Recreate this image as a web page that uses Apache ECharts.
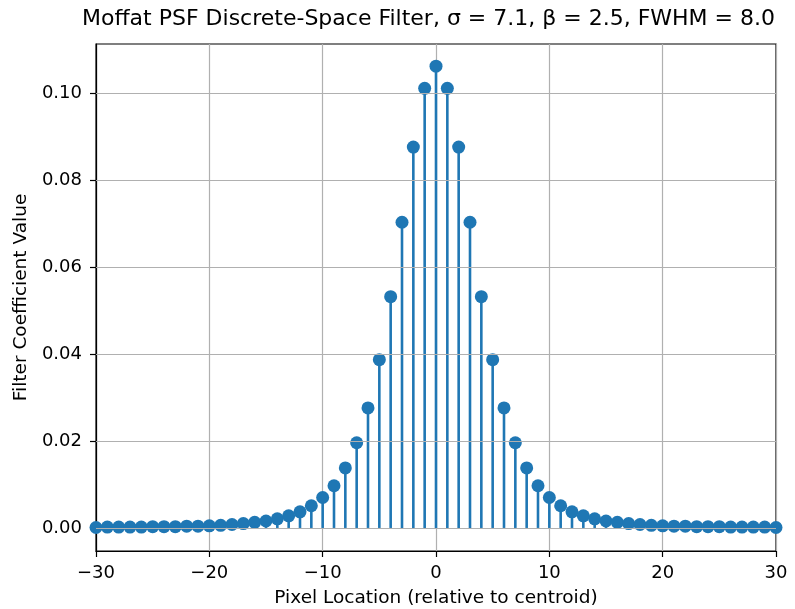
<!DOCTYPE html>
<html lang="en">
<head>
<meta charset="UTF-8">
<title>Moffat PSF</title>
<script src="https://cdn.jsdelivr.net/npm/echarts@6/dist/echarts.min.js"></script>
<style>
  html, body { margin: 0; padding: 0; background: #fff; }
  #container { width: 795px; height: 609px; }
</style>
</head>
<body>
<div id="container"></div>
<script>
// pixel offsets from the centroid
const pixelLocations = [];
for (let i = -30; i <= 30; i++) pixelLocations.push(i);

// filter coefficients, -30 .. 30
const coefficients = [
  0.0001, 0.0002, 0.0002, 0.0002, 0.0002, 0.0003, 0.0003, 0.0003, 0.0004, 0.0004,
  0.0005, 0.0006, 0.0008, 0.0010, 0.0013, 0.0016, 0.0021, 0.0028, 0.0037, 0.0051,
  0.0070, 0.0097, 0.0138, 0.0196, 0.0276, 0.0387, 0.0532, 0.0703, 0.0876, 0.1011,
  0.1062,
  0.1011, 0.0876, 0.0703, 0.0532, 0.0387, 0.0276, 0.0196, 0.0138, 0.0097, 0.0070,
  0.0051, 0.0037, 0.0028, 0.0021, 0.0016, 0.0013, 0.0010, 0.0008, 0.0006, 0.0005,
  0.0004, 0.0004, 0.0003, 0.0003, 0.0003, 0.0002, 0.0002, 0.0002, 0.0002, 0.0001
];

const yTicks = [0, 0.02, 0.04, 0.06, 0.08, 0.10];

const points = pixelLocations.map((x, i) => [x, coefficients[i]]);

const FONT = 'DejaVu Sans';
const BLUE = '#1f77b4';

const chart = echarts.init(document.getElementById('container'), null, { renderer: 'canvas' });

chart.setOption({
  animation: false,
  title: {
    text: 'Moffat PSF Discrete-Space Filter, σ = 7.1, β = 2.5, FWHM = 8.0',
    left: 77,
    top: 3,
    textStyle: { fontFamily: FONT, fontSize: 22, fontWeight: 'normal', color: '#000' }
  },
  grid: {
    left: 96, right: 19, top: 44, bottom: 58,
    outerBoundsMode: 'none',
    containLabel: false,
    show: true, borderColor: '#000', borderWidth: 1.2, backgroundColor: '#fff'
  },
  xAxis: {
    type: 'value',
    min: -30, max: 30, interval: 10,
    name: 'Pixel Location (relative to centroid)',
    nameLocation: 'middle',
    nameGap: 38,
    nameTextStyle: { fontFamily: FONT, fontSize: 18.5, color: '#000' },
    axisLine: { onZero: false, lineStyle: { color: '#000', width: 1.2 } },
    axisTick: { show: true, length: 6, inside: false, lineStyle: { color: '#000', width: 1.2 } },
    axisLabel: {
      fontFamily: FONT, fontSize: 18, color: '#000', margin: 13,
      formatter: v => (v < 0 ? '\u2212' + Math.abs(v) : String(v))
    },
    splitLine: { show: true, lineStyle: { color: '#b0b0b0', width: 1.2 } }
  },
  yAxis: {
    type: 'value',
    min: -0.0053, max: 0.1113,
    name: 'Filter Coefficient Value',
    nameLocation: 'middle',
    nameGap: 64,
    nameTextStyle: { fontFamily: FONT, fontSize: 18.5, color: '#000' },
    axisLine: { onZero: false, lineStyle: { color: '#000', width: 1.2 } },
    axisTick: { show: true, length: 6, customValues: yTicks, lineStyle: { color: '#000', width: 1.2 } },
    axisLabel: {
      fontFamily: FONT, fontSize: 18, color: '#000', margin: 14,
      customValues: yTicks,
      formatter: v => v.toFixed(2)
    },
    splitLine: { show: false }
  },
  series: [
    {
      // horizontal grid lines at the y tick values
      type: 'line',
      data: [],
      silent: true,
      markLine: {
        silent: true,
        symbol: 'none',
        label: { show: false },
        lineStyle: { color: '#b0b0b0', width: 1.2, type: 'solid' },
        data: yTicks.map(v => ({ yAxis: v }))
      },
      z: 1
    },
    {
      type: 'bar',
      data: points,
      barWidth: 2.6,
      itemStyle: { color: BLUE },
      z: 2
    },
    {
      type: 'scatter',
      data: points,
      symbol: 'circle',
      symbolSize: 13,
      itemStyle: { color: BLUE, opacity: 1 },
      z: 3
    }
  ]
});
</script>
</body>
</html>
